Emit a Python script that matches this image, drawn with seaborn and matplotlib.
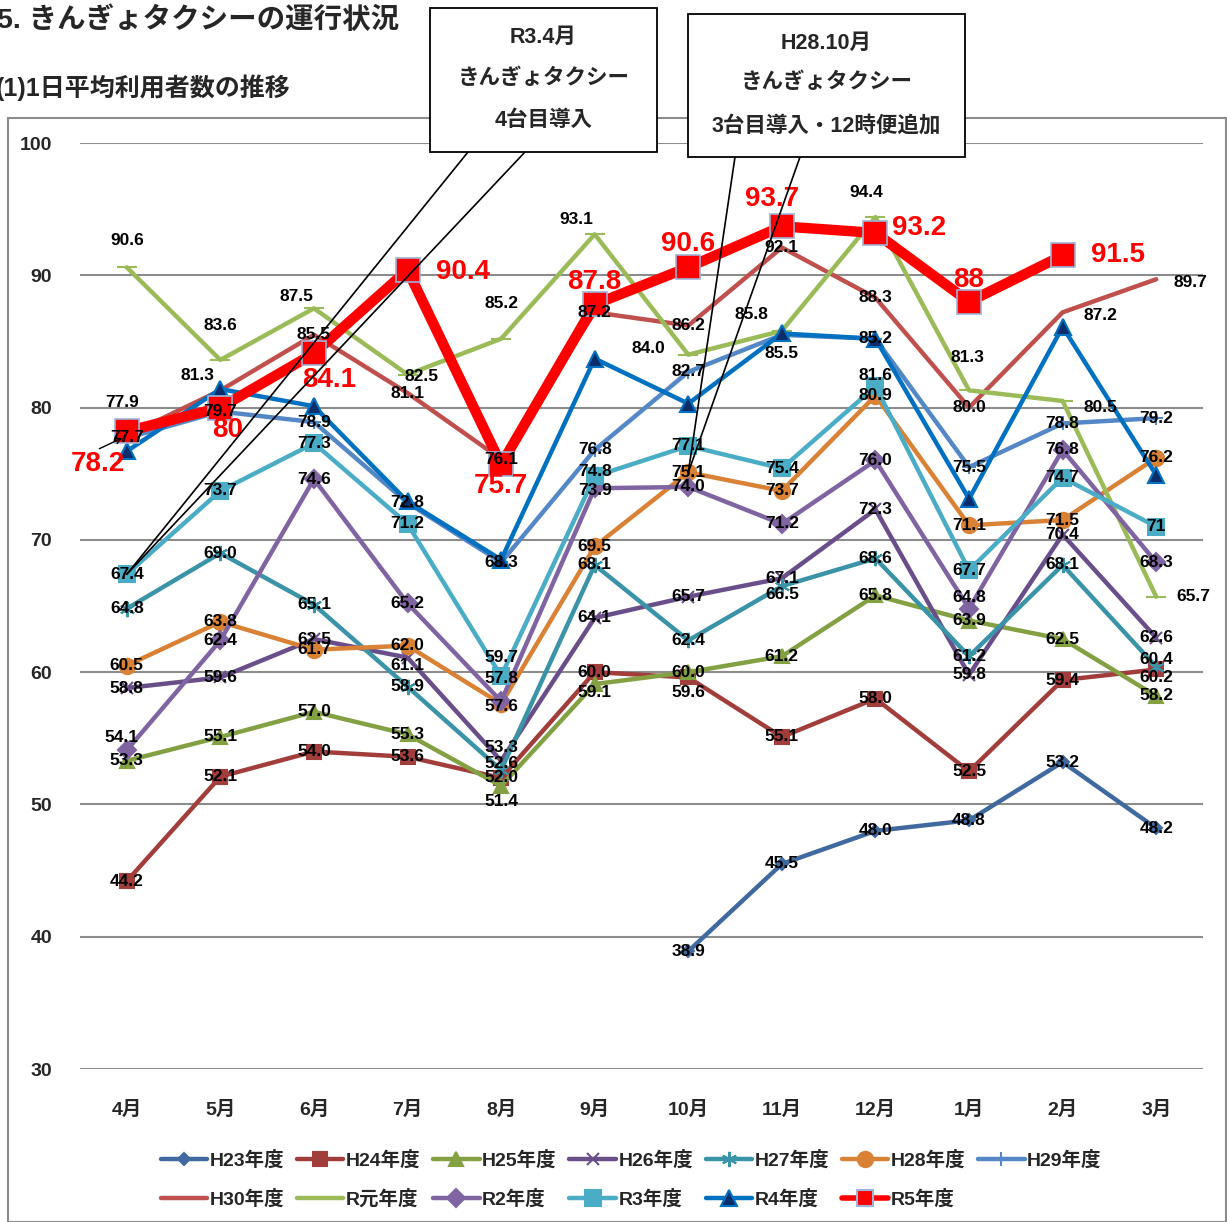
import numpy as np
import pandas as pd
import matplotlib
matplotlib.use('Agg')
import matplotlib.pyplot as plt
from matplotlib.lines import Line2D
from matplotlib.patches import Rectangle
import seaborn as sns

nan = np.nan

# Data (1日平均利用者数)
months = ['4月', '5月', '6月', '7月', '8月', '9月', '10月', '11月', '12月', '1月', '2月', '3月']
h23 = [nan, nan, nan, nan, nan, nan, 38.9, 45.5, 48.0, 48.8, 53.2, 48.2]
h24 = [44.2, 52.1, 54.0, 53.6, 52.0, 60.0, 59.6, 55.1, 58.0, 52.5, 59.4, 60.2]
h25 = [53.3, 55.1, 57.0, 55.3, 51.4, 59.1, 60.0, 61.2, 65.8, 63.9, 62.5, 58.2]
h26 = [58.8, 59.6, 62.5, 61.1, 53.3, 64.1, 65.7, 67.1, 72.3, 59.8, 70.4, 62.6]
h27 = [64.8, 69.0, 65.1, 58.9, 52.6, 68.1, 62.4, 66.5, 68.6, 61.2, 68.1, 60.4]
h28 = [60.5, 63.8, 61.7, 62.0, 57.6, 69.5, 75.1, 73.7, 80.9, 71.1, 71.5, 76.2]
h29 = [77.7, 79.7, 78.9, 72.8, 68.3, 76.8, 82.7, 85.5, 85.2, 75.5, 78.8, 79.2]
h30 = [77.9, 81.3, 85.5, 81.1, 76.1, 87.2, 86.2, 92.1, 88.3, 80.0, 87.2, 89.7]
r1 = [90.6, 83.6, 87.5, 82.5, 85.2, 93.1, 84.0, 85.8, 94.4, 81.3, 80.5, 65.7]
r2 = [54.1, 62.4, 74.6, 65.2, 57.8, 73.9, 74.0, 71.2, 76.0, 64.8, 76.8, 68.3]
r3 = [67.4, 73.7, 77.3, 71.2, 59.7, 74.8, 77.1, 75.4, 81.6, 67.7, 74.7, 71.0]
r4 = [76.7, 81.4, 80.1, 72.9, 68.5, 83.7, 80.3, 85.6, 85.2, 73.1, 86.1, 74.9]
r5 = [78.2, 80.0, 84.1, 90.4, 75.7, 87.8, 90.6, 93.7, 93.2, 88.0, 91.5, nan]

series = [
    ('H23年度', h23), ('H24年度', h24), ('H25年度', h25), ('H26年度', h26),
    ('H27年度', h27), ('H28年度', h28), ('H29年度', h29), ('H30年度', h30),
    ('R元年度', r1), ('R2年度', r2), ('R3年度', r3), ('R4年度', r4), ('R5年度', r5),
]

# line / marker styles
styles = {
    'H23年度': dict(color='#40699F', marker='D', ms=6, mfc='#40699F', mec='#40699F', lw=3.2),
    'H24年度': dict(color='#A13E3B', marker='s', ms=10, mfc='#A13E3B', mec='#A13E3B', lw=3.2),
    'H25年度': dict(color='#83A043', marker='^', ms=10, mfc='#83A043', mec='#83A043', lw=3.2),
    'H26年度': dict(color='#6A4E8A', marker='x', ms=9, mfc='#6A4E8A', mec='#6A4E8A', lw=3.2),
    'H27年度': dict(color='#3A93A7', marker=(6, 2, 0), ms=11, mfc='#3A93A7', mec='#3A93A7', lw=3.2),
    'H28年度': dict(color='#D98236', marker='o', ms=11, mfc='#D98236', mec='#D98236', lw=3.2),
    'H29年度': dict(color='#5487C6', marker='+', ms=10, mfc='#5487C6', mec='#5487C6', lw=3.2),
    'H30年度': dict(color='#C0504D', marker='', ms=0, mfc='none', mec='none', lw=3.2),
    'R元年度': dict(color='#9BBB59', marker='_', ms=14, mfc='#9BBB59', mec='#9BBB59', lw=3.2),
    'R2年度': dict(color='#8064A2', marker='D', ms=9, mfc='#8064A2', mec='#8064A2', lw=3.2),
    'R3年度': dict(color='#4BACC6', marker='s', ms=12, mfc='#4BACC6', mec='#4BACC6', lw=3.2),
    'R4年度': dict(color='#0070C0', marker='^', ms=12, mfc='#0B2D6B', mec='#0070C0', lw=3.2),
    'R5年度': dict(color='#FF0000', marker='s', ms=17, mfc='#FF0000', mec='#9DB3D8', lw=7.5),
}

# label offsets in pixels (dx, dy up); default is centred on the point
offsets = {
    'H24年度': {6: (0, -15), 11: (0, -8)},
    'H25年度': {4: (0, -16), 5: (0, -8)},
    'H26年度': {3: (0, -8), 4: (0, 13)},
    'H27年度': {4: (0, 7), 7: (0, -8), 11: (0, 7)},
    'H28年度': {4: (0, -3)},
    'H29年度': {7: (0, -19)},
    'H30年度': {0: (-5, 33), 1: (-23, 15), 10: (38, -3), 11: (34, -3)},
    'R元年度': {0: (0, 27), 1: (0, 34), 2: (-18, 12), 3: (14, -2), 4: (0, 35), 5: (-18, 15),
               6: (-40, 6), 7: (-30, 16), 8: (-9, 25), 9: (-2, 33), 10: (38, -7), 11: (37, 0)},
    'R2年度': {0: (-5, 13), 4: (0, 23), 5: (0, -2), 9: (0, 11)},
    'R3年度': {4: (0, 19), 5: (0, 5), 8: (0, 11)},
    'R5年度': {0: (-29, -33), 1: (7, -22), 2: (15, -27), 3: (55, -2), 4: (0, -22), 5: (0, 22),
              6: (0, 23), 7: (-10, 27), 8: (44, 5), 9: (0, 22), 10: (55, 0)},
}

W, H = 1227, 1222


def fx(x):
    return x / W


def fy(y):
    return 1 - y / H


sns.set_style('white')
plt.rcParams['font.family'] = ['Liberation Sans', 'Noto Sans CJK JP']
plt.rcParams['font.weight'] = 'bold'

fig = plt.figure(figsize=(W / 100, H / 100), dpi=100)
ax = fig.add_axes([fx(80), fy(1069), fx(1203) - fx(80), fy(143) - fy(1069)])

xs = np.arange(len(months))
for name, vals in series:
    st = styles[name]
    df = pd.DataFrame({'x': xs, 'y': vals}).dropna()
    sns.lineplot(data=df, x='x', y='y', ax=ax, color=st['color'], linewidth=st['lw'],
                 marker=st['marker'] if st['marker'] else None, markersize=st['ms'],
                 markerfacecolor=st['mfc'], markeredgecolor=st['mec'],
                 markeredgewidth=1.5 if name != 'R5年度' else 1.2,
                 zorder=3 if name != 'R5年度' else 4, legend=False)

# data labels
for name, vals in series:
    if name == 'R4年度':
        continue
    for i, v in enumerate(vals):
        if np.isnan(v):
            continue
        dx, dy = offsets.get(name, {}).get(i, (0, 0))
        if name == 'R5年度':
            txt = f'{v:g}'
            ax.annotate(txt, (i, v), xytext=(dx, dy), textcoords='offset pixels',
                        ha='center', va='center', fontsize=20, fontweight='bold',
                        color='#FF0000', zorder=6)
        else:
            txt = '71' if (name == 'R3年度' and i == 11) else f'{v:.1f}'
            ax.annotate(txt, (i, v), xytext=(dx, dy), textcoords='offset pixels',
                        ha='center', va='center', fontsize=12.5, fontweight='bold',
                        color='black', zorder=5)

# small leader line for the first R5 label
ax.annotate('', xy=(-0.02, 77.8), xytext=(-0.32, 76.8),
            arrowprops=dict(arrowstyle='->', color='black', lw=1), zorder=6)

ax.set_xlim(-0.5, 11.5)
ax.set_ylim(30, 100)
ax.set_yticks(range(30, 101, 10))
ax.set_xticks(xs)
ax.set_xticklabels(months)
ax.set_xlabel('')
ax.set_ylabel('')
ax.grid(axis='y', color='#8C8C8C', linewidth=1.5)
ax.grid(axis='x', visible=False)
ax.set_axisbelow(True)
for sp in ax.spines.values():
    sp.set_visible(False)
ax.tick_params(axis='y', length=0, pad=20, labelsize=14)
ax.tick_params(axis='x', length=0, pad=23, labelsize=14)
for lab in ax.get_xticklabels() + ax.get_yticklabels():
    lab.set_fontweight('bold')

# chart border
fig.patches.append(Rectangle((fx(8), 0), 1 - fx(8) - 0.001, fy(118), transform=fig.transFigure,
                             fill=False, edgecolor='#8C8C8C', linewidth=1.5, zorder=0))

# legend (row-major order for 7 columns)
handles = {}
for name, vals in series:
    st = styles[name]
    mk = st['marker'] if st['marker'] and name != 'R元年度' else None
    handles[name] = Line2D([], [], color=st['color'], linewidth=min(st['lw'], 4), marker=mk,
                           markersize=min(st['ms'], 12) if mk else 0,
                           markerfacecolor=st['mfc'], markeredgecolor=st['mec'], markeredgewidth=1.5)
order = ['H23年度', 'H30年度', 'H24年度', 'R元年度', 'H25年度', 'R2年度', 'H26年度', 'R3年度',
         'H27年度', 'R4年度', 'H28年度', 'R5年度', 'H29年度']
fig.legend([handles[n] for n in order], order, ncol=7, loc='upper left',
           bbox_to_anchor=(fx(143), fy(1133)), frameon=False,
           prop={'weight': 'bold', 'size': 14}, handlelength=2.4, handletextpad=0.12,
           columnspacing=0.65, labelspacing=1.0)

# titles
fig.text(fx(-3), fy(20), '5. きんぎょタクシーの運行状況', fontsize=20.5, fontweight='bold',
         ha='left', va='center')
fig.text(fx(-4), fy(88), '(1)1日平均利用者数の推移', fontsize=18, fontweight='bold',
         ha='left', va='center')

# callout boxes
callouts = [
    ((430, 8, 657, 152), [(37, 'R3.4月'), (78, 'きんぎょタクシー'), (120, '4台目導入')],
     [(468, 152), (525, 152)], (0, 67.4)),
    ((688, 14, 965, 157), [(43, 'H28.10月'), (83, 'きんぎょタクシー'), (126, '3台目導入・12時便追加')],
     [(735, 157), (800, 157)], (6, 75.1)),
]
for (x0, y0, x1, y1), lines, starts, target in callouts:
    fig.patches.append(Rectangle((fx(x0), fy(y1)), fx(x1) - fx(x0), fy(y0) - fy(y1),
                                 transform=fig.transFigure, facecolor='white',
                                 edgecolor='black', linewidth=1.3, zorder=8))
    for yy, t in lines:
        fig.text(fx((x0 + x1) / 2), fy(yy), t, fontsize=15.5, fontweight='bold',
                 ha='center', va='center', zorder=9)
    for sx, sy in starts:
        ax.annotate('', xy=target, xytext=(sx, H - sy), textcoords='figure pixels',
                    arrowprops=dict(arrowstyle='-', color='black', lw=1.2,
                                    shrinkA=0, shrinkB=0), zorder=7)

fig.savefig('out.png', dpi=100)
